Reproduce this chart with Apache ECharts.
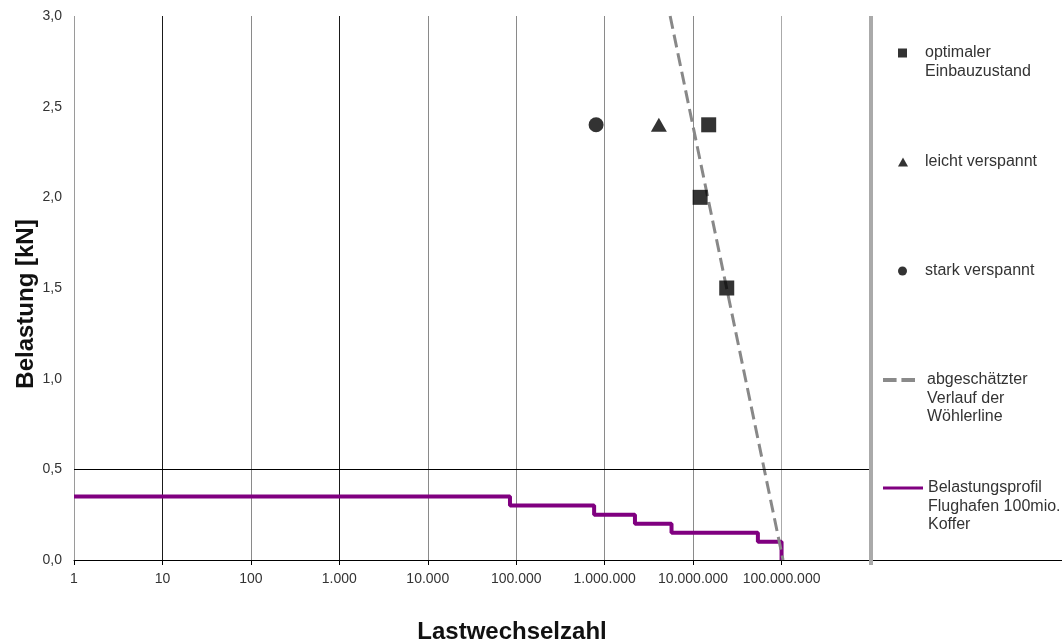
<!DOCTYPE html>
<html><head><meta charset="utf-8">
<script src="https://cdn.jsdelivr.net/npm/echarts@6/dist/echarts.min.js"></script>
<style>html,body{margin:0;padding:0;background:#fff}#c{width:1062px;height:644px}</style>
</head><body><div id="c"></div><script>
// ---- data ----
const xTickLabels = ['1', '10', '100', '1.000', '10.000', '100.000', '1.000.000', '10.000.000', '100.000.000', ''];
const yTickLabels = ['0,0', '0,5', '1,0', '1,5', '2,0', '2,5', '3,0'];
const optimalData = [[1.5e7, 2.4], [1.2e7, 2.0], [2.4e7, 1.5]];
const leichtData = [[4.1e6, 2.4]];
const starkData = [[8.0e5, 2.4]];
const woehlerData = [[5.5e6, 3.0], [1.04e8, 0]];
const profilData = [[1, 0.35], [8.5e4, 0.30], [7.6e5, 0.25], [2.2e6, 0.20], [5.7e6, 0.15], [5.4e7, 0.10], [1.0e8, 0]];
const nameOptimal = 'optimaler\nEinbauzustand';
const nameLeicht = 'leicht verspannt';
const nameStark = 'stark verspannt';
const nameWoehler = 'abgeschätzter\nVerlauf der\nWöhlerline';
const nameProfil = 'Belastungsprofil\nFlughafen 100mio.\nKoffer';
const xTitle = 'Lastwechselzahl';
const yTitle = 'Belastung [kN]';

const FONT = '"Liberation Sans", Arial, sans-serif';
const LH = 18.5;
function legendAt(name, centerY, left, iconW, iconH, icon, textPadLeft, color) {
  const n = name.split('\n').length;
  const item = {name: name, icon: icon};
  if (color) item.itemStyle = {color: color, borderWidth: 0, opacity: 1};
  return {
    show: true, orient: 'vertical', left: left,
    top: centerY - (2 * n - 1) * LH / 2,
    padding: 0, itemWidth: iconW, itemHeight: iconH, itemGap: 0,
    selectedMode: false,
    data: [item],
    // leading blank lines so that the first text line sits level with the marker
    formatter: nm => ' \n'.repeat(n - 1) + nm,
    textStyle: {
      fontFamily: FONT, fontSize: 16, color: '#333', lineHeight: LH,
      padding: [0, 0, 0, textPadLeft]
    }
  };
}

const chart = echarts.init(document.getElementById('c'), null, {renderer: 'canvas'});
chart.setOption({
  animation: false,
  backgroundColor: '#fff',
  grid: {left: 74, top: 16, right: 192, bottom: 84, containLabel: false, outerBoundsMode: 'none'},
  legend: [
    legendAt(nameOptimal, 53, 898, 9, 9, 'rect', 13),
    legendAt(nameLeicht, 162, 898, 10, 9, 'triangle', 12),
    legendAt(nameStark, 271, 898, 9, 9, 'circle', 13),
    legendAt(nameWoehler, 380, 883, 32, 4, 'path://M0,0H14V4H0Z M19,0H33V4H19Z', 7, '#8a8a8a'),
    legendAt(nameProfil, 488, 883, 40, 3, 'rect', 0, '#800080')
  ],
  xAxis: {
    type: 'log', logBase: 10, min: 1, max: 1e9,
    name: xTitle, nameLocation: 'middle', nameGap: 60,
    nameTextStyle: {fontFamily: FONT, fontSize: 24, fontWeight: 'bold', color: '#111', padding: [0, 0, 0, 80]},
    axisLine: {show: true, lineStyle: {color: '#000', width: 1}},
    axisTick: {show: true, length: 5, lineStyle: {color: '#000'}},
    axisLabel: {
      fontFamily: FONT, fontSize: 14, color: '#333', margin: 12,
      formatter: v => xTickLabels[Math.round(Math.log10(v))] || ''
    },
    splitLine: {show: true, lineStyle: {width: 1,
      color: ['#9a9a9a', '#1a1a1a', '#8a8a8a', '#1a1a1a', '#8a8a8a', '#8a8a8a', '#8a8a8a', '#8a8a8a', '#aaaaaa', 'rgba(0,0,0,0)']}}
  },
  yAxis: {
    type: 'value', min: 0, max: 3, interval: 0.5,
    name: yTitle, nameLocation: 'middle', nameGap: 36, nameRotate: 90, nameMoveOverlap: false,
    nameTextStyle: {fontFamily: FONT, fontSize: 24, fontWeight: 'bold', color: '#111', padding: [0, 32, 0, 0]},
    axisLine: {show: false},
    axisTick: {show: false},
    axisLabel: {
      fontFamily: FONT, fontSize: 14, color: '#333', margin: 12,
      formatter: v => yTickLabels[Math.round(v / 0.5)] || ''
    },
    splitLine: {show: false}
  },
  series: [
    {
      name: nameProfil, type: 'line', step: 'end', data: profilData,
      symbol: 'none', color: '#800080',
      lineStyle: {color: '#800080', width: 4},
      z: 3,
      markLine: {
        silent: true, symbol: ['none', 'none'], label: {show: false},
        animation: false,
        data: [
          {yAxis: 0.5, lineStyle: {color: '#000', width: 1, type: 'solid'}}
        ]
      }
    },
    {
      name: nameWoehler, type: 'line', data: woehlerData,
      symbol: 'none', color: '#888',
      lineStyle: {color: '#888', width: 3, type: [13, 6]},
      z: 4
    },
    {
      name: nameOptimal, type: 'scatter', data: optimalData,
      symbol: 'rect', symbolSize: 15, itemStyle: {color: '#000'}, z: 5
    },
    {
      name: nameLeicht, type: 'scatter', data: leichtData,
      symbol: 'triangle', symbolSize: [16, 14], itemStyle: {color: '#000'}, z: 5
    },
    {
      name: nameStark, type: 'scatter', data: starkData,
      symbol: 'circle', symbolSize: 15, itemStyle: {color: '#000'}, z: 5
    }
  ]
});

// frame lines of the plot area: right border (at the axis max) and the x-axis line continued to the edge
const pMax = chart.convertToPixel({gridIndex: 0}, [1e9, 0]);
const pTop = chart.convertToPixel({gridIndex: 0}, [1e9, 3]);
chart.setOption({
  graphic: [
    {type: 'line', z: 10, silent: true,
     shape: {x1: pMax[0], y1: pMax[1] + 0.5, x2: chart.getWidth(), y2: pMax[1] + 0.5},
     style: {stroke: '#000', lineWidth: 1}},
    {type: 'line', z: 11, silent: true,
     shape: {x1: pMax[0] + 1, y1: pTop[1], x2: pMax[0] + 1, y2: pMax[1] + 5},
     style: {stroke: '#aaa', lineWidth: 4}}
  ]
});
</script></body></html>
